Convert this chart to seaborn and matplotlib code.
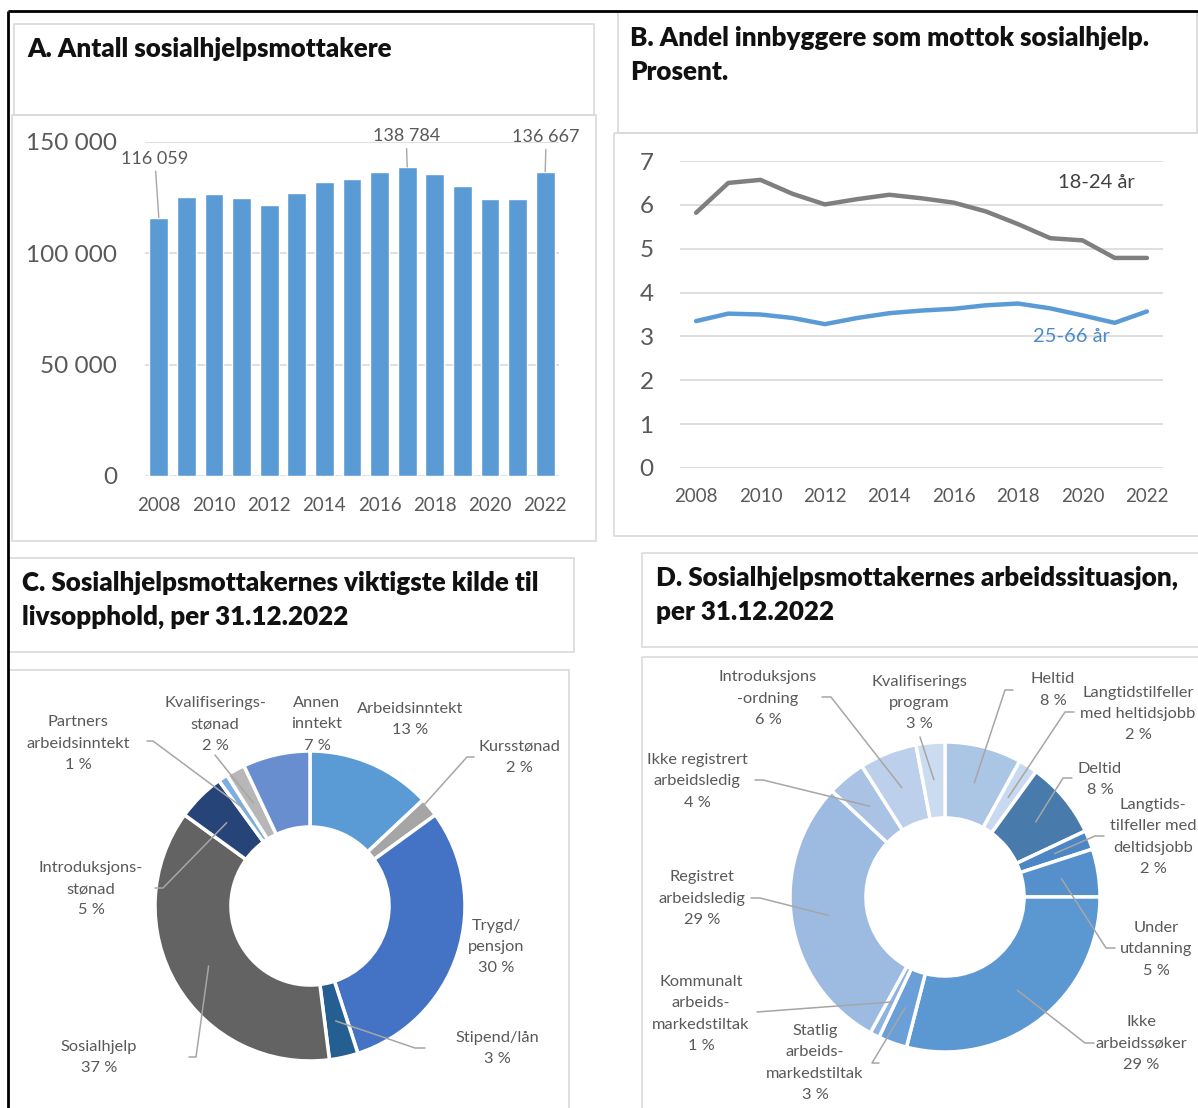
import matplotlib
matplotlib.use("Agg")
import numpy as np
import pandas as pd
import seaborn as sns
import matplotlib.pyplot as plt
from matplotlib.patches import Rectangle

# ---------------- data ----------------
years = list(range(2008, 2023))
recipients = [116059, 125300, 126800, 124800, 121600, 127100, 132200, 133600,
              136400, 138784, 135500, 130200, 124500, 124500, 136667]
labelled_years = [2008, 2017, 2022]

share_18_24 = [5.82, 6.50, 6.57, 6.25, 6.01, 6.13, 6.23, 6.15, 6.05, 5.85,
               5.56, 5.24, 5.19, 4.79, 4.79]
share_25_66 = [3.35, 3.52, 3.50, 3.42, 3.28, 3.42, 3.53, 3.59, 3.63, 3.71,
               3.75, 3.64, 3.48, 3.31, 3.57]
group_names = ["18-24 år", "25-66 år"]

income_names = ["Arbeidsinntekt", "Kursstønad", "Trygd/\npensjon", "Stipend/lån",
                "Sosialhjelp", "Introduksjons-\nstønad", "Partners\narbeidsinntekt",
                "Kvalifiserings-\nstønad", "Annen\ninntekt"]
income_pct = [13, 2, 30, 3, 37, 5, 1, 2, 7]
income_colors = ["#5B9BD5", "#A5A5A5", "#4472C4", "#255E91", "#636363",
                 "#264478", "#7CAFDD", "#B7B7B7", "#698ED0"]

work_names = ["Heltid", "Langtidstilfeller\nmed heltidsjobb", "Deltid",
              "Langtids-\ntilfeller med\ndeltidsjobb", "Under\nutdanning",
              "Ikke\narbeidssøker", "Statlig\narbeids-\nmarkedstiltak",
              "Kommunalt\narbeids-\nmarkedstiltak", "Registret\narbeidsledig",
              "Ikke registrert\narbeidsledig", "Introduksjons\n-ordning",
              "Kvalifiserings\nprogram"]
work_pct = [8, 2, 8, 2, 5, 29, 3, 1, 29, 4, 6, 3]
work_colors = ["#ABC5E5", "#C9D9EF", "#487BAB", "#4C86C4", "#5590CC", "#5B98D2",
               "#6A9FD8", "#8DB4E0", "#9DBBE1", "#AAC3E4", "#BDD0EB", "#CCDCF0"]

titles = ["A. Antall sosialhjelpsmottakere",
          "B. Andel innbyggere som mottok sosialhjelp.\nProsent.",
          "C. Sosialhjelpsmottakernes viktigste kilde til\nlivsopphold, per 31.12.2022",
          "D. Sosialhjelpsmottakernes arbeidssituasjon,\nper 31.12.2022"]

# ---------------- style ----------------
sns.set_theme(style="white")
plt.rcParams["font.family"] = ["Lato", "DejaVu Sans"]
TICK = "#595959"
GRID = "#D9D9D9"
LEAD = "#A6A6A6"

W, H = 1198, 1108
fig = plt.figure(figsize=(W / 100, H / 100), dpi=100)
fig.patch.set_facecolor("white")


def px_axes(x0, y0, x1, y1, z=1):
    ax = fig.add_axes([x0 / W, 1 - y1 / H, (x1 - x0) / W, (y1 - y0) / H])
    ax.set_zorder(z)
    ax.patch.set_alpha(0)
    return ax


bg = px_axes(0, 0, W, H, z=0)
bg.set_xlim(0, W); bg.set_ylim(H, 0); bg.axis("off")
fg = px_axes(0, 0, W, H, z=10)
fg.set_xlim(0, W); fg.set_ylim(H, 0); fg.axis("off")

# panel boxes
boxes = [(14, 24, 594, 115), (12, 115, 596, 541),
         (618, 12, 1197, 133), (614, 133, 1205, 536),
         (9, 558, 574, 652), (9, 670, 569, 1115),
         (642, 553, 1205, 647), (642, 657, 1205, 1115)]
for x0, y0, x1, y1 in boxes:
    bg.add_patch(Rectangle((x0, y0), x1 - x0, y1 - y0, fill=False,
                           ec=GRID, lw=1.2))
# outer black frame
fg.plot([8, W], [11, 11], color="black", lw=2, solid_capstyle="butt")
fg.plot([8, 8], [11, H], color="black", lw=2, solid_capstyle="butt")

# titles
title_pos = [(27, 49), (630, 55), (22, 600), (656, 595)]
for (tx, ty), t in zip(title_pos, titles):
    fg.text(tx, ty, t, fontsize=18.7, fontweight="heavy", color="#111111",
            va="center", ha="left", linespacing=1.5)

# ---------------- A: bars ----------------
axA = px_axes(145, 142, 559, 476, z=2)
dfA = pd.DataFrame({"year": years, "count": recipients})
sns.barplot(data=dfA, x="year", y="count", color="#5B9BD5", saturation=1,
            width=0.68, ax=axA)
axA.set_xlim(-0.5, len(years) - 0.5)
axA.set_ylim(0, 150000)
yt = [0, 50000, 100000, 150000]
axA.set_yticks(yt)
axA.set_yticklabels([f"{v:,}".replace(",", " ") for v in yt])
axA.set_xticks(range(0, len(years), 2))
axA.set_xticklabels([str(y) for y in years[::2]])
axA.yaxis.grid(True, color=GRID, lw=1.2)
axA.set_axisbelow(True)
axA.set_xlabel(""); axA.set_ylabel("")
for s in axA.spines.values():
    s.set_visible(False)
axA.tick_params(axis="y", length=0, pad=20, labelsize=17.5, labelcolor=TICK)
axA.tick_params(axis="x", length=0, pad=15, labelsize=13.5, labelcolor=TICK)
label_offsets = {2008: (-4, 59), 2017: (-1, 31), 2022: (1, 35)}
for yr in labelled_years:
    i = years.index(yr)
    v = recipients[i]
    axA.annotate(f"{v:,}".replace(",", " "), xy=(i, v),
                 xytext=label_offsets[yr], textcoords="offset pixels",
                 ha="center", va="center", fontsize=13, color=TICK,
                 annotation_clip=False,
                 arrowprops=dict(arrowstyle="-", color=LEAD, lw=1,
                                 shrinkA=1, shrinkB=0))

# ---------------- B: lines ----------------
axB = px_axes(680, 161, 1163, 468, z=2)
dfB = pd.DataFrame({"year": years * 2,
                    "share": share_18_24 + share_25_66,
                    "group": [group_names[0]] * len(years) + [group_names[1]] * len(years)})
sns.lineplot(data=dfB, x="year", y="share", hue="group",
             palette={group_names[0]: "#7F7F7F", group_names[1]: "#5B9BD5"},
             lw=3.2, legend=False, ax=axB)
axB.set_xlim(2007.5, 2022.5)
axB.set_ylim(0, 7)
axB.set_yticks(range(0, 8))
axB.set_xticks(range(2008, 2023, 2))
axB.yaxis.grid(True, color=GRID, lw=1.2)
axB.set_axisbelow(True)
axB.set_xlabel(""); axB.set_ylabel("")
for s in axB.spines.values():
    s.set_visible(False)
axB.tick_params(axis="y", length=0, pad=19, labelsize=17.5, labelcolor=TICK)
axB.tick_params(axis="x", length=0, pad=14.5, labelsize=13.5, labelcolor=TICK)
axB.text(2020.42, 6.52, group_names[0], fontsize=14.5, color="#404040",
         ha="center", va="center")
axB.text(2019.67, 2.99, group_names[1], fontsize=14.5, color="#4A8BC8",
         ha="center", va="center")


# ---------------- donuts ----------------
def donut(cx, cy, R, values, colors, names, layout):
    s = 2 * R * 1.05
    ax = px_axes(cx - s / 2, cy - s / 2, cx + s / 2, cy + s / 2, z=3)
    wedges, _ = ax.pie(values, colors=colors, startangle=90, counterclock=False,
                       radius=1, wedgeprops=dict(width=0.49, edgecolor="white",
                                                 linewidth=2.5))
    ax.set_xlim(-1.05, 1.05); ax.set_ylim(-1.05, 1.05)
    ax.set_aspect("equal")
    ax.apply_aspect()
    to_fg = ax.transData + fg.transData.inverted()
    for w, v, name, (tx, ty, pts) in zip(wedges, values, names, layout):
        fg.text(tx, ty, f"{name}\n{v} %", fontsize=11.8, color=TICK,
                ha="center", va="center", multialignment="center",
                linespacing=1.65)
        if pts is None:
            continue
        th = np.deg2rad((w.theta1 + w.theta2) / 2)
        ex, ey = to_fg.transform((0.76 * np.cos(th), 0.76 * np.sin(th)))
        xs = [p[0] for p in pts] + [ex]
        ys = [p[1] for p in pts] + [ey]
        fg.plot(xs, ys, color=LEAD, lw=1.1)


C_layout = [
    (410, 719.5, None),
    (519, 757, [(474, 757), (467, 757)]),
    (496, 947, None),
    (497, 1048.5, [(425, 1048), (415, 1048)]),
    (99, 1057.5, [(189, 1057), (196, 1057)]),
    (91, 889, [(155, 888), (163, 888)]),
    (78, 743.5, [(147, 741), (153, 741)]),
    (215, 724.5, [(215, 755)]),
    (317, 724.5, None),
]
donut(310, 906, 155, income_pct, income_colors, income_names, C_layout)

D_layout = [
    (1053, 690, [(1013, 690), (1005, 690)]),
    (1138, 714, [(1074, 712), (1065, 712)]),
    (1100, 779.5, [(1072, 778), (1063, 778)]),
    (1153, 837, [(1104, 836), (1095, 836)]),
    (1156, 949.5, [(1115, 948), (1106, 948)]),
    (1141, 1043.5, [(1094, 1043), (1085, 1043)]),
    (815, 1063, [(879, 1063), (872, 1063)]),
    (701, 1014, [(757, 1012)]),
    (702, 898.5, [(751, 898), (760, 898)]),
    (697, 781.5, [(755, 780), (763, 780)]),
    (768, 698.5, [(822, 697), (831, 697)]),
    (919, 703, [(920, 737)]),
]
donut(945, 897, 155, work_pct, work_colors, work_names, D_layout)

fig.savefig("out.png", dpi=100, facecolor="white")
